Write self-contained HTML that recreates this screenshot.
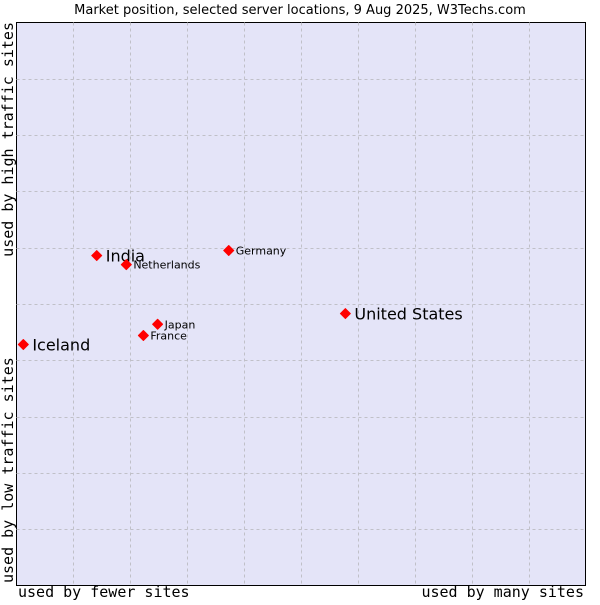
<!DOCTYPE html>
<html><head><meta charset="utf-8"><style>
body{margin:0;background:#fff;}
svg text{font-family:"DejaVu Sans","Liberation Sans",sans-serif;}
.mono{font-family:"DejaVu Sans Mono","Liberation Mono",monospace !important;}
</style></head><body>
<svg id="chart" width="600" height="600" xmlns="http://www.w3.org/2000/svg">
<text x="300" y="14" text-anchor="middle" font-size="13" fill="#000">Market position, selected server locations, 9 Aug 2025, W3Techs.com</text>
<rect x="16.5" y="22.5" width="569" height="563" fill="#e4e4f8" stroke="#000" stroke-width="1"/>
<g id="grid"></g>
<g id="points"></g>
<text x="18" y="597" font-size="15" class="mono">used by fewer sites</text>
<text x="584" y="597" font-size="15" text-anchor="end" class="mono">used by many sites</text>
<text transform="translate(13,583) rotate(-90)" font-size="15" class="mono">used by low traffic sites</text>
<text transform="translate(13,22) rotate(-90)" font-size="15" text-anchor="end" class="mono">used by high traffic sites</text>
</svg>
<script>
const names=["India","Netherlands","Germany","United States","Japan","France","Iceland"];
const xVals=[1.41,1.93,3.73,5.78,2.48,2.23,0.12];
const yVals=[5.86,5.70,5.95,4.83,4.64,4.44,4.28];
const big=[true,false,false,true,false,false,true];
const X0=16.5,X1=585.5,Y0=585.5,Y1=22.5;
function sx(v){return X0+v/10*(X1-X0);}
function sy(v){return Y0-v/10*(Y0-Y1);}
const NS="http://www.w3.org/2000/svg";
const grid=document.getElementById('grid');
for(let i=1;i<10;i++){
  const l=document.createElementNS(NS,'line');
  l.setAttribute('x1',Math.round(sx(i))+0.5);l.setAttribute('x2',Math.round(sx(i))+0.5);
  l.setAttribute('y1',Y1);l.setAttribute('y2',Y0);
  l.setAttribute('stroke','#c0c0c8');l.setAttribute('stroke-dasharray','3,3');
  
  
  grid.appendChild(l);
  const h=document.createElementNS(NS,'line');
  h.setAttribute('y1',Math.round(sy(i))+0.5);h.setAttribute('y2',Math.round(sy(i))+0.5);
  h.setAttribute('x1',X0);h.setAttribute('x2',X1);
  h.setAttribute('stroke','#c0c0c8');h.setAttribute('stroke-dasharray','3,3');
  
  
  grid.appendChild(h);
}
const pts=document.getElementById('points');
names.forEach((n,i)=>{
  const x=sx(xVals[i]),y=sy(yVals[i]);
  const p=document.createElementNS(NS,'polygon');
  p.setAttribute('points',`${x},${y-5} ${x+5},${y} ${x},${y+5} ${x-5},${y}`);
  p.setAttribute('fill','#f00');
  p.setAttribute('stroke','#f00');
  p.setAttribute('stroke-linejoin','round');
  
  
  pts.appendChild(p);
  const t=document.createElementNS(NS,'text');
  t.setAttribute('x',x+(big[i]?9:7));
  t.setAttribute('y',y+(big[i]?6:4));
  t.setAttribute('font-size',big[i]?16:11);
  t.textContent=n;
  
  
  pts.appendChild(t);
});
</script>
</body></html>
